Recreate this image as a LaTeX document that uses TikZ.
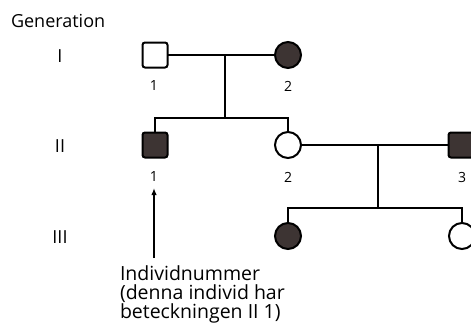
\documentclass[tikz,border=0pt]{standalone}
\usepackage{fontspec}
\setmainfont{Open Sans}
\usetikzlibrary{arrows.meta}
\definecolor{affected}{HTML}{3D3433}
\tikzset{
  every node/.style={inner sep=0pt, outer sep=0pt},
  male/.style={draw=black, line width=2pt, minimum size=25pt, rounded corners=2.5pt},
  female/.style={draw=black, line width=2pt, circle, minimum size=26pt},
  aff/.style={fill=affected},
  unaff/.style={fill=white},
  link/.style={line width=1.8pt},
  lbl/.style={font=\fontsize{14}{14}\selectfont},
  gen/.style={font=\fontsize{18}{18}\selectfont},
}
\begin{document}
\begin{tikzpicture}[x=1pt, y=-1pt]
  \useasboundingbox (0,0) rectangle (471,332);
  \clip (0,0) rectangle (471,332);

  % generation labels
  \node[gen, anchor=west] (title) at (11,21) {Generation};
  \node[gen] (g1) at (60,56) {I};
  \node[gen] (g2) at (60,146) {II};
  \node[gen] (g3) at (60,237) {III};

  % generation I
  \node[male, unaff] (a1) at (155,55) {};
  \node[female, aff] (a2) at (288,55) {};
  \coordinate (m1) at (225,55);
  \coordinate (s1) at (225,118);

  % generation II
  \node[male, aff] (b1) at (155,145) {};
  \node[female, unaff] (b2) at (288,145) {};
  \node[male, aff] (b3) at (461,145) {};
  \coordinate (m2) at (378,145);
  \coordinate (s2) at (378,208);

  % generation III
  \node[female, aff] (c1) at (288,236) {};
  \node[female, unaff] (c2) at (462,236) {};

  % connectors
  \draw[link] (a1.east) -- (a2.west);
  \draw[link] (m1) -- (s1);
  \draw[link] (b1.north) |- (s1) -| (b2.north);
  \draw[link] (b2.east) -- (b3.west);
  \draw[link] (m2) -- (s2);
  \draw[link] (c1.north) |- (s2) -| (c2.north);

  % individual numbers
  \node[lbl] (na1) at (154,86) {1};
  \node[lbl] (na2) at (288,86) {2};
  \node[lbl] (nb1) at (154,177) {1};
  \node[lbl] (nb2) at (288,177) {2};
  \node[lbl] (nb3) at (462,177) {3};

  % note with arrow
  \node[anchor=north west, align=left, font=\fontsize{19.5}{19}\selectfont] (note) at (120,266)
    {Individnummer\\(denna individ har\\beteckningen II 1)};
  \coordinate (tail) at (154,258);
  \draw[line width=1.4pt, -{Latex[length=7pt,width=5.5pt]}] (tail) -- (nb1.south |- 0,188);
\end{tikzpicture}
\end{document}
